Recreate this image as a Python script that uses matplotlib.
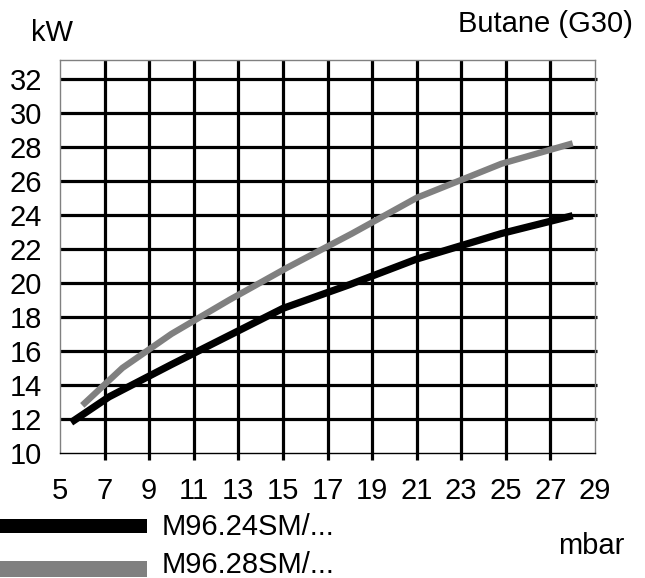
import matplotlib
matplotlib.use("Agg")
import matplotlib.pyplot as plt
from matplotlib.patches import Rectangle

# ---- data ----
x_ticks = [5, 7, 9, 11, 13, 15, 17, 19, 21, 23, 25, 27, 29]
y_ticks = [10, 12, 14, 16, 18, 20, 22, 24, 26, 28, 30, 32]

m24_p = [5.5, 7.2, 10.0, 15.0, 18.0, 21.0, 24.8, 28.0]
m24_kw = [11.8, 13.3, 15.2, 18.5, 19.9, 21.4, 22.9, 23.95]

m28_p = [6.0, 7.8, 10.0, 12.6, 15.2, 18.1, 21.0, 24.8, 28.0]
m28_kw = [12.8, 15.0, 17.0, 19.0, 20.9, 22.9, 25.0, 27.0, 28.2]

series_labels = ["M96.24SM/...", "M96.28SM/..."]
series_colors = ["#000000", "#808080"]

W, H = 645, 578
FS = 21
plt.rcParams['font.family'] = ['Liberation Sans', 'DejaVu Sans']
fig = plt.figure(figsize=(W / 100, H / 100), dpi=100)
ax = fig.add_axes([60 / W, (H - 453) / H, (595 - 60) / W, (453 - 60) / H])
ax.set_xlim(5, 29)
ax.set_ylim(10, 33.1)

# grid lines (thick black)
for yv in y_ticks[1:]:
    ax.plot([5, 29.1], [yv, yv], color="black", lw=2.3, clip_on=False, zorder=1,
            solid_capstyle="butt")
for xv in x_ticks[1:-1]:
    ax.plot([xv, xv], [9.6, 33.1], color="black", lw=2.3, clip_on=False, zorder=1,
            solid_capstyle="butt")

for side in ["left", "right", "top"]:
    ax.spines[side].set_color("#808080")
    ax.spines[side].set_linewidth(1.0)
ax.spines["bottom"].set_color("black")
ax.spines["bottom"].set_linewidth(1.0)

ax.plot(m28_p, m28_kw, color=series_colors[1], lw=4.6, solid_capstyle="butt",
        solid_joinstyle="miter", zorder=3, clip_on=False)
ax.plot(m24_p, m24_kw, color=series_colors[0], lw=5.2, solid_capstyle="butt",
        solid_joinstyle="miter", zorder=3, clip_on=False)

ax.set_xticks(x_ticks)
ax.set_yticks(y_ticks)
ax.tick_params(axis="both", length=0, labelsize=FS)
ax.tick_params(axis="x", pad=17)
ax.tick_params(axis="y", pad=13)

# texts
fig.text(52 / W, 1 - 33 / H, "kW", fontsize=FS, ha="center", va="center")
fig.text(633 / W, 1 - 24 / H, "Butane (G30)", fontsize=FS, ha="right", va="center")
fig.text(591 / W, 1 - 546 / H, "mbar", fontsize=FS, ha="center", va="center")

# legend
fig.patches.append(Rectangle((0, 1 - 533 / H), 147 / W, 14 / H, transform=fig.transFigure,
                             facecolor=series_colors[0], edgecolor="none"))
fig.patches.append(Rectangle((0, 1 - 577 / H), 147 / W, 16 / H, transform=fig.transFigure,
                             facecolor=series_colors[1], edgecolor="none"))
fig.text(162 / W, 1 - 527 / H, series_labels[0], fontsize=FS, ha="left", va="center")
fig.text(162 / W, 1 - 565 / H, series_labels[1], fontsize=FS, ha="left", va="center")

fig.savefig("out.png", dpi=100)
